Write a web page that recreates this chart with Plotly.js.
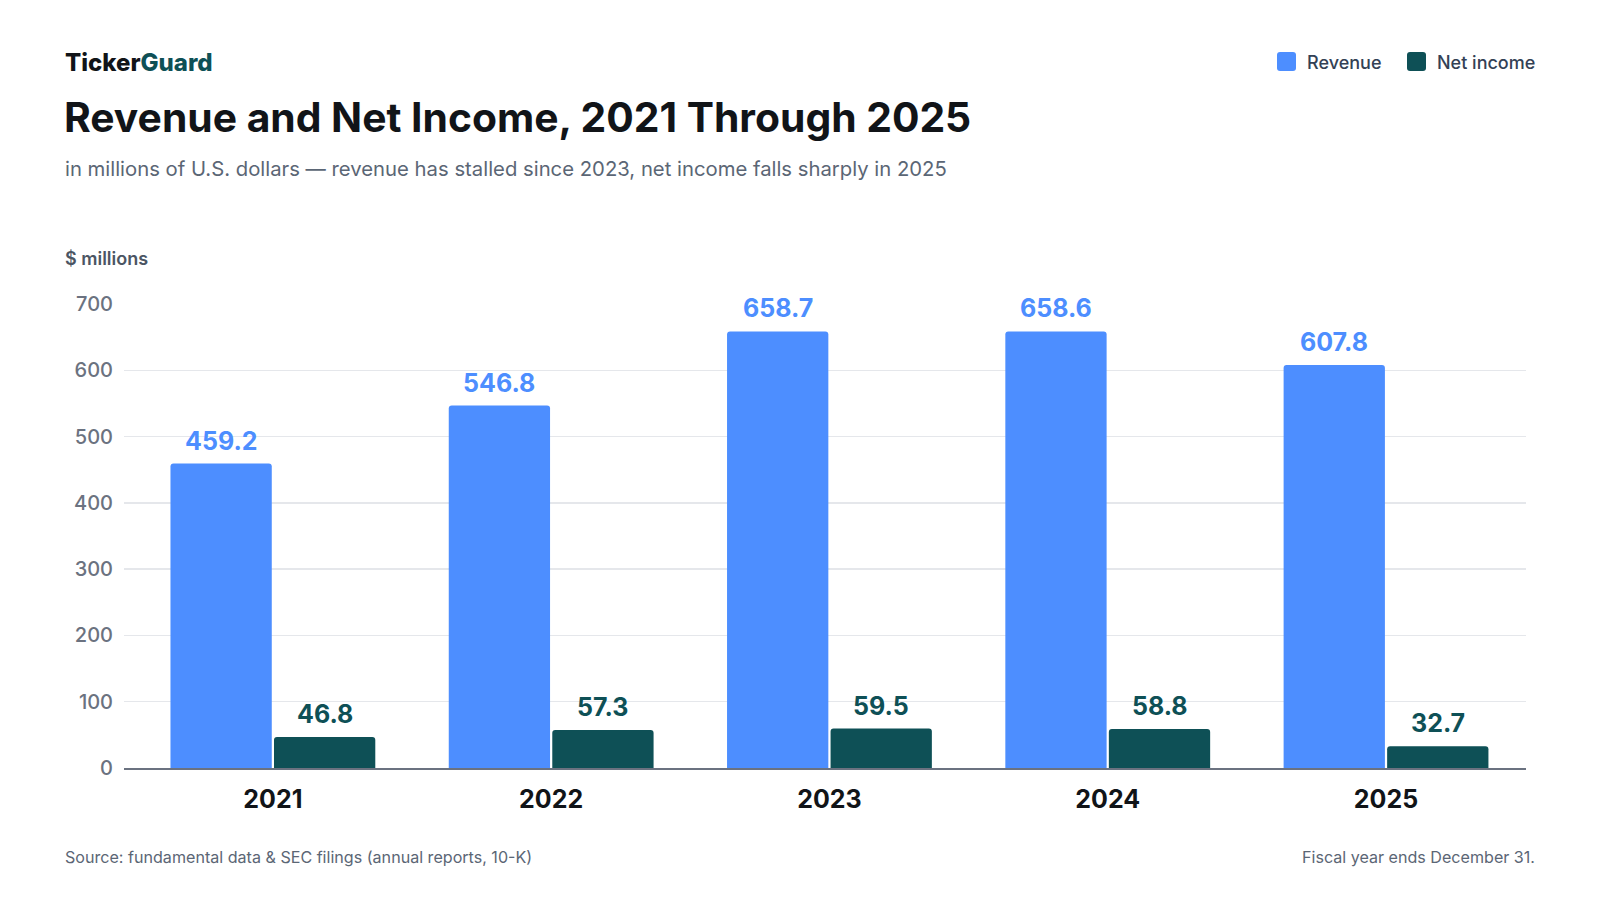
<!DOCTYPE html>
<html>
<head>
<meta charset="utf-8">
<script src="https://cdn.plot.ly/plotly-3.0.1.min.js"></script>
<style>
  html, body { margin: 0; padding: 0; background: #ffffff; }
  #chart { width: 1600px; height: 900px; }
</style>
</head>
<body>
<div id="chart"></div>
<script>
// data
const years = ['2021', '2022', '2023', '2024', '2025'];
const revenue = [459.2, 546.8, 658.7, 658.6, 607.8];
const netIncome = [46.8, 57.3, 59.5, 58.8, 32.7];
const yTicks = [0, 100, 200, 300, 400, 500, 600, 700];

const blue = '#4d8eff';
const teal = '#0e5056';
const font = 'Inter, "Noto Sans", sans-serif';

// plot box in pixels, used to place the header / footer text
const L = 124, R = 74, T = 304, B = 132;
const W = 1600 - L - R, H = 900 - T - B;
const px = v => (v - L) / W;
const py = v => (900 - B - v) / H;

const barW = 0.364;
const revOff = -0.368, netOff = 0.004;

const traceRev = {
  type: 'bar', name: 'Revenue', x: years, y: revenue,
  width: barW, offset: revOff,
  marker: {color: blue, cornerradius: 3},
  hoverinfo: 'x+y'
};
const traceNet = {
  type: 'bar', name: 'Net income', x: years, y: netIncome,
  width: barW, offset: netOff,
  marker: {color: teal, cornerradius: 3},
  hoverinfo: 'x+y'
};

let annotations = [];

// value labels above the bars
years.forEach((yr, i) => {
  annotations.push({
    xref: 'x', yref: 'y', x: i + revOff + barW / 2, y: revenue[i],
    text: revenue[i].toFixed(1), showarrow: false, yanchor: 'bottom', yshift: 6,
    font: {family: font, size: 25, color: blue, weight: 700}
  });
  annotations.push({
    xref: 'x', yref: 'y', x: i + netOff + barW / 2, y: netIncome[i],
    text: netIncome[i].toFixed(1), showarrow: false, yanchor: 'bottom', yshift: 6,
    font: {family: font, size: 25, color: teal, weight: 700}
  });
});

// header
annotations.push({
  xref: 'paper', yref: 'paper', x: px(63), y: py(62), xanchor: 'left', yanchor: 'middle',
  text: '<span style="color:#111418">Ticker</span><span style="color:#0e5056">Guard</span>',
  showarrow: false, font: {family: font, size: 24, weight: 800}
});
annotations.push({
  xref: 'paper', yref: 'paper', x: px(62), y: py(117), xanchor: 'left', yanchor: 'middle',
  text: 'Revenue and Net Income, 2021 Through 2025',
  showarrow: false, font: {family: font, size: 40.8, color: '#111418', weight: 700}
});
annotations.push({
  xref: 'paper', yref: 'paper', x: px(63), y: py(168), xanchor: 'left', yanchor: 'middle',
  text: 'in millions of U.S. dollars \u2014 revenue has stalled since 2023, net income falls sharply in 2025',
  showarrow: false, font: {family: font, size: 20.3, color: '#5b6675'}
});
annotations.push({
  xref: 'paper', yref: 'paper', x: px(63), y: py(258), xanchor: 'left', yanchor: 'middle',
  text: '$ millions', showarrow: false, font: {family: font, size: 18, color: '#4b5563', weight: 600}
});

// legend
annotations.push({
  xref: 'paper', yref: 'paper', x: px(1305), y: py(62), xanchor: 'left', yanchor: 'middle',
  text: 'Revenue', showarrow: false, font: {family: font, size: 18, color: '#334155', weight: 500}
});
annotations.push({
  xref: 'paper', yref: 'paper', x: px(1435), y: py(62), xanchor: 'left', yanchor: 'middle',
  text: 'Net income', showarrow: false, font: {family: font, size: 18, color: '#334155', weight: 500}
});

// footer
annotations.push({
  xref: 'paper', yref: 'paper', x: px(63), y: py(857), xanchor: 'left', yanchor: 'middle',
  text: 'Source: fundamental data &amp; SEC filings (annual reports, 10-K)',
  showarrow: false, font: {family: font, size: 16.1, color: '#5b6675'}
});
annotations.push({
  xref: 'paper', yref: 'paper', x: px(1537), y: py(857), xanchor: 'right', yanchor: 'middle',
  text: 'Fiscal year ends December 31.',
  showarrow: false, font: {family: font, size: 16.1, color: '#5b6675'}
});

function roundSquare(cx, cy, color) {
  const s = 9.5, r = 3;
  return {
    type: 'path', xref: 'paper', yref: 'paper', xsizemode: 'pixel', ysizemode: 'pixel',
    xanchor: px(cx), yanchor: py(cy),
    path: `M${-s + r},${-s} L${s - r},${-s} Q${s},${-s} ${s},${-s + r} L${s},${s - r} Q${s},${s} ${s - r},${s} ` +
          `L${-s + r},${s} Q${-s},${s} ${-s},${s - r} L${-s},${-s + r} Q${-s},${-s} ${-s + r},${-s} Z`,
    fillcolor: color, line: {width: 0}
  };
}

const layout = {
  width: 1600, height: 900,
  margin: {l: L, r: R, t: T, b: B},
  paper_bgcolor: '#ffffff', plot_bgcolor: '#ffffff',
  showlegend: false,
  barmode: 'overlay',
  font: {family: font},
  xaxis: {
    type: 'category', range: [-0.535, 4.503],
    showgrid: false, showline: true, linecolor: '#6b7280', linewidth: 2,
    ticks: 'outside', ticklen: 8, tickcolor: 'rgba(0,0,0,0)',
    tickfont: {family: font, size: 25, color: '#111418', weight: 700},
    fixedrange: true
  },
  yaxis: {
    range: [0, 700], tickvals: yTicks,
    showgrid: true, gridcolor: '#e5e7eb', gridwidth: 1.5,
    zeroline: false, showline: false,
    ticks: 'outside', ticklen: 6, tickcolor: 'rgba(0,0,0,0)',
    tickfont: {family: font, size: 20, color: '#6b7280', weight: 500},
    fixedrange: true
  },
  annotations: annotations,
  shapes: [roundSquare(1286.5, 61.5, blue), roundSquare(1416.5, 61.5, teal)]
};

Plotly.newPlot('chart', [traceRev, traceNet], layout, {displayModeBar: false, staticPlot: true});
</script>
</body>
</html>
